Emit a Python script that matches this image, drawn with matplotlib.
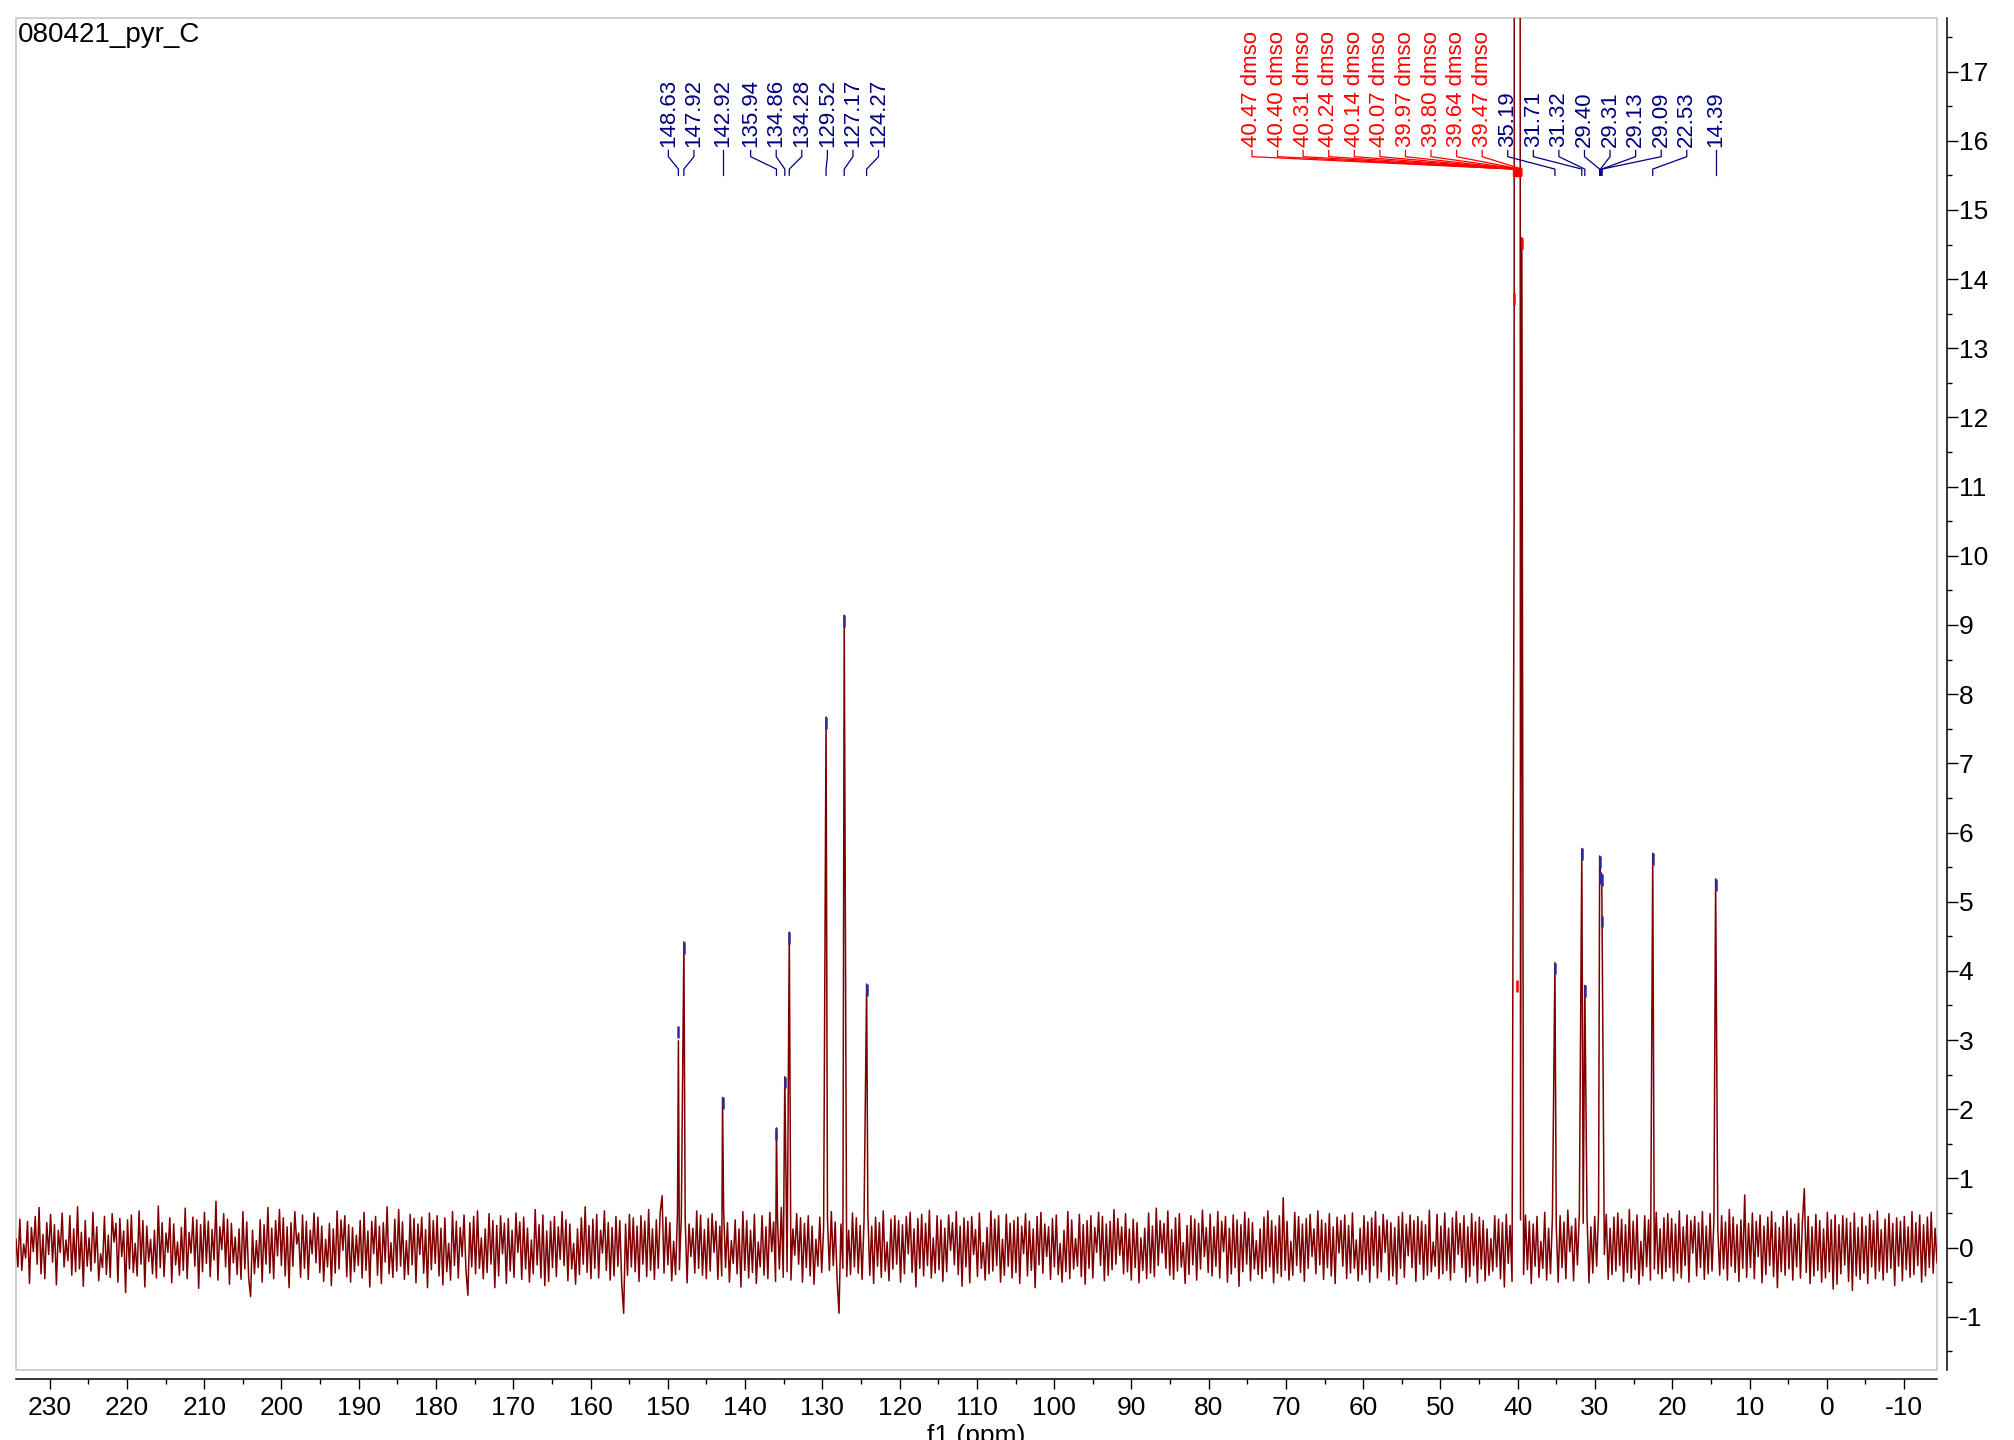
import numpy as np
import matplotlib
matplotlib.use('Agg')
import matplotlib.pyplot as plt
from matplotlib.patches import Rectangle
from matplotlib.ticker import MultipleLocator

plt.rcParams['font.family'] = ['Liberation Sans', 'DejaVu Sans']
plt.rcParams['axes.unicode_minus'] = False

title = '080421_pyr_C'
x_label = 'f1 (ppm)'

# picked peaks (ppm), top of the drawn line and height of the pick marker
peak_ppm = [148.63, 147.92, 142.92, 135.94, 134.86, 134.28, 129.52, 127.17, 124.27,
            35.19, 31.71, 31.32, 29.40, 29.31, 29.13, 29.09, 22.53, 14.39]
peak_height = [2.99, 4.42, 2.17, 1.73, 2.47, 4.56, 7.67, 9.14, 3.81,
               4.12, 5.77, 3.79, 5.66, 5.43, 5.40, 4.80, 5.70, 5.33]
pick_height = [3.20, 4.42, 2.17, 1.73, 2.47, 4.56, 7.67, 9.14, 3.81,
               4.12, 5.77, 3.79, 5.66, 5.43, 5.40, 4.80, 5.70, 5.33]

# solvent multiplet (dmso-d6), mostly off scale
solvent_name = 'dmso'
solvent_ppm = [40.47, 40.40, 40.31, 40.24, 40.14, 40.07, 39.97, 39.80, 39.64, 39.47]
solvent_height = [10.6, 40.0, 70.0, 85.0, 95.0, 98.0, 100.0, 60.0, 0.4, 14.6]
solvent_pick = [13.8, 40.0, 70.0, 85.0, 95.0, 3.87, 100.0, 60.0, 30.0, 14.6]

# baseline noise, hundredths, left (234 ppm) to right (-14 ppm)
noise_centi = [
    12, -28, 41, -33, 5, -15, 38, -52, 29, -6, 45, -24, 58, -38, 19, -45, 36, -10, 48, -21,
    33, -54, 25, -7, 50, -28, 11, -19, 46, -40, 27, -35, 59, -31, 22, -56, 39, -27, 14, -34,
    51, -22, 30, -48, -9, -29, 45, -39, 18, -43, 49, 8, 35, -50, 42, -13, 24, -65, 40, -31,
    47, -36, 6, -41, 53, -24, 39, -57, 31, -20, 12, -38, 25, -44, 60, -29, 36, -42, 21, -7,
    43, -51, 34, -25, 8, -40, 29, -33, 57, -45, 22, -8, 44, -27, 40, -59, 33, -35, 51, -23,
    38, -42, 26, -18, 67, -47, 30, -3, 49, -28, 41, -53, 35, -22, 15, -39, 27, -46, 52, -31,
    37, -44, -71, 25, -38, 10, -29, 40, -50, 33, -24, 58, -37, 28, -45, 39, -12, 55, -26, 43,
    -41, 30, -58, 36, -27, 52, 5, 21, -43, 47, -30, 38, -46, 25, -9, 50, -22, 44, -36, 31,
    -49, 12, -28, 35, -55, 27, -37, 53, -31, 40, -4, 46, -42, 33, -50, 29, -35, 18, -26, 39,
    -44, 51, -33, 24, -57, 38, -9, 45, -40, 31, -52, 36, -21, 59, -38, 7, -43, 41, -34, 55,
    -27, 37, -46, 10, -39, 48, -25, 42, -51, 34, -10, 44, -37, 26, -58, 50, -32, 39, -23, 46,
    -41, 28, -54, 43, -35, 6, -47, 52, -26, 38, -44, 29, -13, 47, -33, -69, 36, -28, 45, -38,
    53, -30, 14, -45, 27, -36, 49, -24, 39, -58, 32, -41, 46, -9, 35, -52, 42, -34, 25, -43,
    50, -7, 37, -46, 44, -31, 28, -50, 11, -38, 55, -25, 33, -44, 47, -55, 24, -49, 38, -29,
    45, -42, 30, -17, 52, -26, 40, -48, 34, -31, 6, -53, 27, -39, 43, -24, 59, -36, 32, -45,
    41, -30, 48, -44, 25, -8, 53, -33, 36, -47, 29, -41, 45, -27, 39, -52, -95, 34, -40, 48,
    -28, 43, -35, 31, -49, 46, -24, 38, -42, 55, -33, 27, -46, 40, -30, 51, 75, -37, 44, -25,
    36, -48, 9, -39, 50, -32, 45, -26, 41, -51, 34, -13, 28, -37, 53, -30, 47, -40, 26, -45,
    42, -34, 49, -7, 38, -46, 31, -41, 54, -29, 36, -50, 10, -23, 40, -38, 27, -57, 52, -33,
    39, -44, 25, -36, 48, -52, 8, -28, 46, -40, 30, -45, 51, -6, 37, -49, 42, -31, 58, -43,
    55, -35, 40, -47, 27, -11, 49, -24, 43, -50, 35, -29, 46, -41, 31, -53, 12, -27, 44, -36,
    29, -48, 41, -33, 52, -26, 37, -45, -95, 34, -30, 47, -42, 25, -39, 50, -28, 43, -37, 32,
    -46, 38, -5, 49, -40, 31, -52, 44, -27, 36, -43, 53, -34, 8, -48, 41, -31, 46, -24, 39,
    -50, 33, -38, 45, -9, 51, -36, 27, -57, 42, -30, 48, -41, 35, -26, 54, -44, 14, -37, 46,
    -32, 40, -49, 28, -35, 47, -4, 36, -25, 52, -39, 31, -56, 43, -28, 38, -51, 45, -10, 26,
    -42, 50, -30, 7, -47, 29, -38, 53, -34, 41, -26, 46, -50, 12, -40, 48, -27, 35, -44, 39,
    -36, 44, -52, 31, -9, 49, -41, 38, -33, 27, -58, 45, -25, 51, -37, 34, -13, 30, -46, 42,
    -28, 47, -39, 6, -50, 25, -35, 52, -45, 40, -31, 13, -27, 48, -42, 33, -53, 39, -30, 46,
    -44, 29, -7, 51, -26, 45, -48, 34, -40, 38, -32, 55, -24, 42, -11, 30, -38, 49, -35, 27,
    -47, 41, -29, 36, -51, 14, -33, 28, -45, 50, -37, 31, -42, 57, -26, 39, -8, 35, -30, 53,
    -40, 26, -46, 43, -34, 49, -28, 7, -52, 32, -39, 46, -25, 41, -47, 35, -31, 54, -13, 29,
    -36, 48, -41, 30, -27, 52, -44, 38, -6, 45, -50, 28, -38, 47, -29, 40, -56, 33, -35, 51,
    -24, 42, -48, 36, -31, 10, -39, 27, -45, 44, -34, 53, -28, 39, -51, 31, -37, 46, -42, 72,
    -33, 38, -47, 9, -40, 51, -26, 45, -36, 34, -49, 42, -30, 48, -13, 27, -38, 53, -25, 40,
    -46, 35, -29, 49, -41, 30, -52, 44, -8, 39, -27, 47, -45, 32, -37, 50, -30, 11, -48, 28,
    -39, 46, -32, 37, -50, 43, -26, 52, -44, 31, -35, 48, -7, 40, -47, 36, -41, 29, -53, 45,
    -30, 51, -43, 34, -12, 47, -29, 39, -49, 45, -24, 38, -46, 33, -40, 54, -35, 8, -27, 48,
    -45, 31, -38, 50, -33, 28, -47, 43, -36, 52, -10, 35, -29, 46, -50, 30, -42, 49, -26, 37,
    -51, 44, -31, 39, -48, 27, -40, 13, -34, 46, -28, 41, -45, 36, -57, 48, -23, 32, -49, 43,
    -35, 50, -44, 29, -39, 47, -32, 38, -52, 34, -27, 45, -43, 9, -30, 51, -47, 28, -38, 44,
    -42, 33, -50, 46, -29, 37, -45, 54, -6, 31, -48, 42, -25, 49, -40, 35, -33, 47, -51, 30,
    -37, 45, -27, 52, -43, 36, -10, 48, -46, 28, -39, 44, -34, 50, -26, 41, -49, 33, -36, 55,
    -44, 38, -32, 47, -53, 9, -41, 46, -28, 40, -47, 35, -31, 51, -38, 27, -45, 43, -35, 49,
    -29, 42, -48, 34, -37, 53, -44, 30, -26, 47, -50, 39, -8, 45, -41, 36, -29, 52, -46, 31,
    -38, 49, -34, 41, -52, 28, -40, 46, -31, 37, -47, 55, -27, 44, -36, 33, -49, 40, -30, 76,
    -43, 35, -29, 50, -45, 38, -13, 47, -51, 31, -39, 44, -26, 52, -42, 36, -58, 29, -35, 45,
    -40, 53, -31, 42, -47, 34, -28, 49, -44, 37, 85, -36, 45, -52, 30, -41, 48, -33, 39, -50,
    27, -44, 51, -35, 40, -60, 47, -53, 33, -38, 46, -25, 42, -49, 36, -62, 50, -41, 29, -46,
    44, -37, 31, -52, 48, -28, 39, -45, 53, -34, 26, -47, 41, -36, 49, -30, 35, -55, 43, -27,
    38, -48, 45, -32, 30, -43, 52, -39, 36, -26, 47, -50, 33, -41, 44, -29, 51, -37, 28, -22,
]

x_left, x_right = 234.36, -14.26
y_bottom, y_top = -1.77, 17.77

spec_color = '#800000'
peak_color = '#000080'
tip_color = '#2b2ba0'
solvent_color = '#ff0000'
frame_color = '#c8c8c8'


def spread(centres, gap):
    # keep labels in order, at least `gap` apart, as close to their peaks as possible
    target = [c + i * gap for i, c in enumerate(centres)]
    blocks = []
    for t in target:
        blocks.append([t, 1])
        while len(blocks) > 1 and blocks[-1][0] / blocks[-1][1] > blocks[-2][0] / blocks[-2][1]:
            s, c = blocks.pop()
            blocks[-1][0] += s
            blocks[-1][1] += c
    out = []
    for s, c in blocks:
        out += [s / c] * c
    return [v - i * gap for i, v in enumerate(out)]


# spectrum: noise on a regular ppm grid plus the peak points
noise = np.array(noise_centi) / 100.0
grid = np.linspace(x_left, x_right, len(noise))
all_peaks = np.array(peak_ppm + solvent_ppm)
keep = np.array([np.min(np.abs(all_peaks - g)) > 0.1 for g in grid])
keep &= ~((grid > min(solvent_ppm) - 0.05) & (grid < max(solvent_ppm) + 0.05))
xs = np.concatenate([grid[keep], peak_ppm, solvent_ppm])
ys = np.concatenate([noise[keep], peak_height, solvent_height])
order = np.argsort(-xs)
xs, ys = xs[order], ys[order]

fig = plt.figure(figsize=(20.15, 14.4), dpi=100)
ax = fig.add_axes([16 / 2015, 70 / 1440, 1921 / 2015, 1351.7 / 1440])

ax.plot(xs, ys, color=spec_color, lw=1.1, zorder=3)

# pick markers on the peak tops
for p, h in zip(peak_ppm, pick_height):
    ax.plot([p, p], [h - 0.17, h], color=tip_color, lw=1.8, solid_capstyle='butt', zorder=4)
for p, h in zip(solvent_ppm, solvent_pick):
    ax.plot([p, p], [h - 0.17, h], color=solvent_color, lw=1.8, solid_capstyle='butt', zorder=4)

# peak labels
gap = 3.31
y_txt, y_a, y_b, y_c, y_end = 15.91, 15.86, 15.77, 15.59, 15.50
lab_pos = spread(peak_ppm, gap)
sol_pos = spread(solvent_ppm, gap)
right_side = [l for p, l in zip(peak_ppm, lab_pos) if p < min(solvent_ppm)]
shift = max(0.0, max(right_side) + gap - min(sol_pos))
sol_pos = [v + shift for v in sol_pos]

for p, lx in zip(peak_ppm, lab_pos):
    ax.plot([lx, lx, p, p], [y_a, y_b, y_c, y_end], color=peak_color, lw=0.9, zorder=5)
    ax.text(lx, y_txt, f'{p:.2f}', rotation=90, ha='center', va='bottom',
            fontsize=16, color=peak_color, zorder=5)
for p, lx in zip(solvent_ppm, sol_pos):
    ax.plot([lx, lx, p, p], [y_a, y_b, y_c, y_end], color=solvent_color, lw=0.9, zorder=5)
    ax.text(lx, y_txt, f'{p:.2f} {solvent_name}', rotation=90, ha='center', va='bottom',
            fontsize=16, color=solvent_color, zorder=5)
ax.plot([np.mean(solvent_ppm)], [(y_c + y_end) / 2], 's', color=solvent_color, ms=5.5, zorder=6)

ax.set_xlim(x_left, x_right)
ax.set_ylim(y_bottom, y_top)

ax.add_patch(Rectangle((0, 0), 1, 1, transform=ax.transAxes, fill=False,
                       ec=frame_color, lw=1.2, clip_on=False, zorder=1))
ax.spines['top'].set_visible(False)
ax.spines['left'].set_visible(False)
ax.spines['bottom'].set_position(('outward', 6.5))
ax.spines['right'].set_position(('outward', 7.2))
for side in ['bottom', 'right']:
    ax.spines[side].set_linewidth(1.1)
    ax.spines[side].set_color('black')

ax.xaxis.set_major_locator(MultipleLocator(10))
ax.xaxis.set_minor_locator(MultipleLocator(5))
ax.yaxis.set_major_locator(MultipleLocator(1))
ax.yaxis.set_minor_locator(MultipleLocator(0.5))
ax.yaxis.tick_right()
ax.tick_params(axis='x', which='major', direction='out', length=7.2, width=1.0, labelsize=19, pad=5)
ax.tick_params(axis='x', which='minor', direction='out', length=3.6, width=1.0)
ax.tick_params(axis='y', which='major', direction='out', length=7.7, width=1.0, labelsize=19, pad=0.8,
               left=False, right=True, labelleft=False, labelright=True)
ax.tick_params(axis='y', which='minor', direction='out', length=3.6, width=1.0, left=False, right=True)

ax.set_xlabel(x_label, fontsize=19, labelpad=3)
ax.annotate(title, xy=(0, 1), xycoords='axes fraction', xytext=(1, -3),
            textcoords='offset points', ha='left', va='top', fontsize=20)

fig.savefig('out.png', dpi=100)
